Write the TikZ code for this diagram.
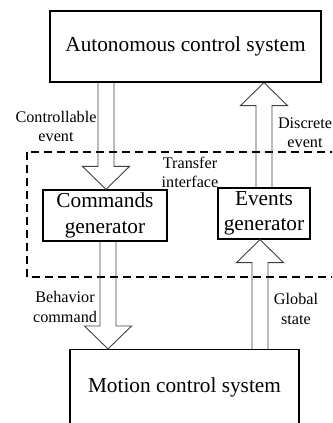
\documentclass[tikz,border=0pt]{standalone}
\usepackage{fontspec}
\setmainfont{Liberation Serif}
\usetikzlibrary{calc}

\tikzset{
  sysbox/.style={draw=black, line width=1.2pt, inner sep=0pt, align=center,
    font=\fontsize{21.3}{25.5}\selectfont},
  lbl/.style={inner sep=0pt, align=center, font=\fontsize{16.2}{19.2}\selectfont},
  interface/.style={draw=black, line width=2.4pt, dash pattern=on 8pt off 5pt},
  blockarrow/.style={draw=black!75, line width=0.9pt, line join=miter},
}

% hollow block arrow pointing down: shaft starts at #1, tip at #2
\newcommand{\blockdown}[2]{%
  \draw[blockarrow] let \p1=(#1), \p2=(#2) in
    (\x1-8pt,\y1) -- (\x1-8pt,\y2+23pt) -- (\x1-23.5pt,\y2+23pt) -- (\x1,\y2)
    -- (\x1+23.5pt,\y2+23pt) -- (\x1+8pt,\y2+23pt) -- (\x1+8pt,\y1);}
% hollow block arrow pointing up: shaft starts at #1, tip at #2
\newcommand{\blockup}[2]{%
  \draw[blockarrow] let \p1=(#1), \p2=(#2) in
    (\x1-8pt,\y1) -- (\x1-8pt,\y2-23pt) -- (\x1-23.5pt,\y2-23pt) -- (\x1,\y2)
    -- (\x1+23.5pt,\y2-23pt) -- (\x1+8pt,\y2-23pt) -- (\x1+8pt,\y1);}

\begin{document}
\begin{tikzpicture}[x=1pt, y=-1pt]
  \useasboundingbox (0,0) rectangle (332,423);
  \clip (0,0) rectangle (332,423);

  % transfer interface region (runs off the right edge)
  \draw[interface] (27,152) rectangle (350,277);

  % system blocks
  \node[sysbox, minimum width=271pt, minimum height=71pt] (aut) at (185.5,46.5)
    {Autonomous control system};
  \node[sysbox, minimum width=124pt, minimum height=51pt] (cmd) at (105,215.5)
    {Commands\\generator};
  \node[sysbox, minimum width=92pt, minimum height=51pt] (evt) at (264,213.5)
    {Events\\generator};
  \node[sysbox, minimum width=229pt, minimum height=80pt, anchor=north] (mot) at (184.5,349)
    {};
  \node[sysbox, draw=none] (motlabel) at (184.5,387) {Motion control system};

  % data flows
  \blockdown{$(cmd.north |- aut.south)+(1,0)$}{$(cmd.north)+(1,0)$}
  \blockup{$(evt.north)$}{$(evt.north |- aut.south)+(-1,0)$}
  \blockdown{$(cmd.south)+(3,0)$}{$(cmd.south |- mot.north)+(3,0)$}
  \blockup{$(evt.south |- mot.north)+(-4,0)$}{$(evt.south)+(-4,0)$}

  % flow labels
  \node[lbl] (lce) at (56,126.5) {Controllable\\event};
  \node[lbl] (lde) at (305,132.5) {Discrete\\event};
  \node[lbl] (lti) at (190,172.5) {Transfer\\interface};
  \node[lbl] (lbc) at (65,307) {Behavior\\command};
  \node[lbl] (lgs) at (296,309) {Global\\state};
\end{tikzpicture}
\end{document}
